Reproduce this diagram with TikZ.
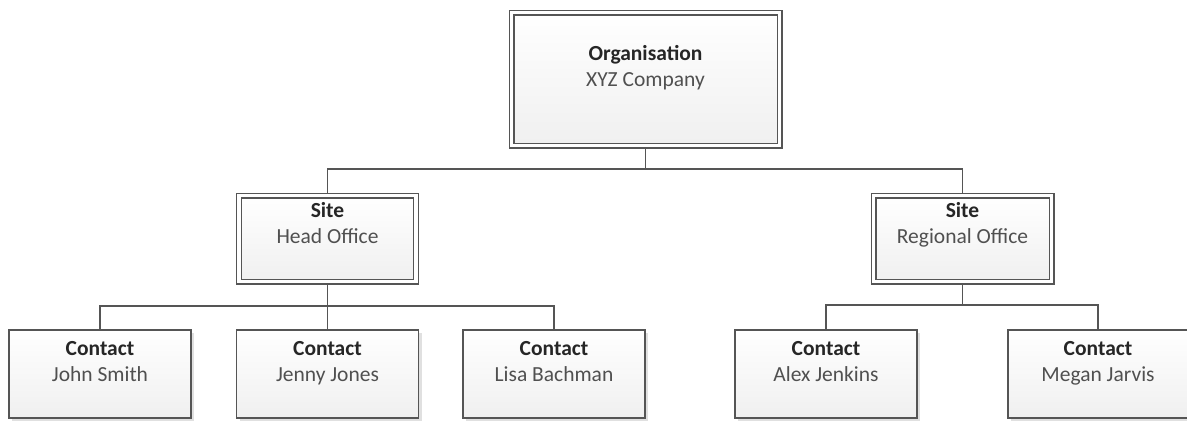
\documentclass[tikz,border=0pt]{standalone}
\usepackage{fontspec}
\setmainfont{Carlito}
\usetikzlibrary{shadows,backgrounds}
\definecolor{edgecol}{HTML}{555555}
\definecolor{ttl}{HTML}{262626}
\definecolor{nm}{HTML}{505050}
\begin{document}
\begin{tikzpicture}[x=1pt,y=-1pt,
  box/.style={draw=edgecol, line width=1.6pt, top color=white, bottom color=black!6,
    drop shadow={shadow xshift=3pt, shadow yshift=-3pt, fill=black!12, opacity=1},
    inner sep=0pt, minimum width=182pt, minimum height=88pt},
  dbox/.style={box, line width=1.4pt, double=white, double distance=3.2pt},
  ttext/.style={anchor=base, inner sep=0pt, font=\fontsize{21.5}{24}\selectfont\bfseries, text=ttl},
  ntext/.style={anchor=base, inner sep=0pt, font=\fontsize{21.5}{24}\selectfont, text=nm},
  conn/.style={draw=edgecol, line width=1.6pt}]
\useasboundingbox (0,0) rectangle (1187,421);

% boxes
\node[dbox, minimum width=268pt, minimum height=133pt] (org) at (645.5,79) {};
\node[dbox, minimum width=177pt, minimum height=86pt] (s1) at (327.5,238.5) {};
\node[dbox, minimum width=178pt, minimum height=86pt] (s2) at (962.5,238.5) {};
\node[box] (c1) at (100,374) {};
\node[box] (c2) at (327.5,374) {};
\node[box] (c3) at (554,374) {};
\node[box] (c4) at (826,374) {};
\node[box, minimum width=180pt] (c5) at (1098,374) {};

% texts
\node[ttext] (orgT) at (645.5,60) {Organisation};
\node[ntext] (orgN) at (645.5,86) {XYZ Company};
\node[ttext] (s1T) at (327.5,217) {Site};
\node[ntext] (s1N) at (327.5,243) {Head Office};
\node[ttext] (s2T) at (962.5,217) {Site};
\node[ntext] (s2N) at (962.5,243) {Regional Office};
\node[ttext] (c1T) at (100,355) {Contact};
\node[ntext] (c1N) at (100,381) {John Smith};
\node[ttext] (c2T) at (327.5,355) {Contact};
\node[ntext] (c2N) at (327.5,381) {Jenny Jones};
\node[ttext] (c3T) at (554,355) {Contact};
\node[ntext] (c3N) at (554,381) {Lisa Bachman};
\node[ttext] (c4T) at (826,355) {Contact};
\node[ntext] (c4N) at (826,381) {Alex Jenkins};
\node[ttext] (c5T) at (1098,355) {Contact};
\node[ntext] (c5N) at (1098,381) {Megan Jarvis};

% connectors
\coordinate (bus0) at (0,169);
\coordinate (bus1) at (0,306);
\coordinate (bus2) at (0,305);
\begin{scope}[on background layer]
\draw[conn] (org.south) -- (org.south |- bus0) -| (s1.north);
\draw[conn] (org.south |- bus0) -| (s2.north);
\draw[conn] (s1.south) -- (s1.south |- bus1) -| (c1.north);
\draw[conn] (s1.south |- bus1) -- (c2.north);
\draw[conn] (s1.south |- bus1) -| (c3.north);
\draw[conn] (s2.south) -- (s2.south |- bus2) -| (c4.north);
\draw[conn] (s2.south |- bus2) -| (c5.north);
\end{scope}
\end{tikzpicture}
\end{document}
